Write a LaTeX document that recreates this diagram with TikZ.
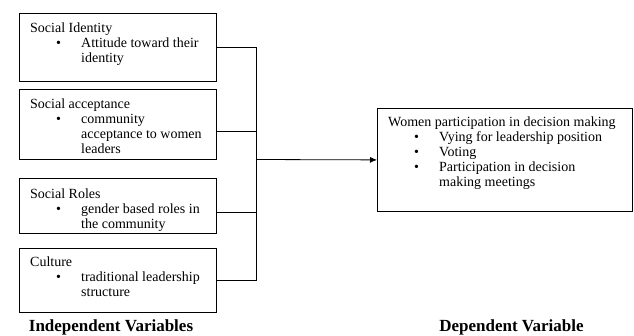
\documentclass[tikz,border=0pt]{standalone}
\usepackage{fontspec}
\setmainfont{Liberation Serif}
\usetikzlibrary{arrows.meta,positioning}
\newcommand{\bul}{\makebox[51pt][l]{\hspace*{26pt}\textbullet}}
\newcommand{\ind}{\hspace*{51pt}}

\begin{document}
\begin{tikzpicture}[x=1pt,y=-1pt,
  box/.style={draw,thick,minimum width=197pt,inner sep=0pt},
  txt/.style={anchor=base west,align=left,inner sep=0pt,font=\fontsize{14}{15}\selectfont},
  varlabel/.style={anchor=base,font=\fontsize{17}{18}\selectfont\bfseries}]
 \useasboundingbox (0,0) rectangle (634,335);
 % independent variables (text nodes sit on their last baseline)
 \node[box,minimum height=68pt,anchor=north west] (idn) at (19,13) {};
 \node[box,minimum height=70pt,anchor=north west] (acc) at (19,89) {};
 \node[box,minimum height=55pt,anchor=north west] (rol) at (19,178) {};
 \node[box,minimum height=64pt,anchor=north west] (cul) at (19,248) {};
 \node[txt] (idnt) at (30,62.5) {Social Identity\\ \bul Attitude toward their\\ \ind identity};
 \node[txt] (acct) at (30,153) {Social acceptance\\ \bul community\\ \ind acceptance to women\\ \ind leaders};
 \node[txt] (rolt) at (30,228) {Social Roles\\ \bul gender based roles in\\ \ind the community};
 \node[txt] (cult) at (30,296.5) {Culture\\ \bul traditional leadership\\ \ind structure};
 % dependent variable
 \node[box,minimum width=255pt,minimum height=103pt,anchor=north west] (wom) at (377,108) {};
 \node[txt] (womt) at (388,186.5) {Women participation in decision making\\
   \bul Vying for leadership position\\ \bul Voting\\
   \bul Participation in decision\\ \ind making meetings};
 % connectors
 \coordinate (jn) at (256,159.5);
 \draw[thick] (idn.east) -| (jn);
 \draw[thick] ([yshift=-7pt]acc.east) -| (jn);
 \draw[thick] ([yshift=-6pt]rol.east) -| (jn);
 \draw[thick] (cul.east) -| (jn);
 \draw[thick,-{Latex[length=7pt,width=6pt]}] (jn) -- (wom.west);
 \node[varlabel] (ivar) at (111,331) {Independent Variables};
 \node[varlabel] (dvar) at (511.5,331) {Dependent Variable};
\end{tikzpicture}
\end{document}
